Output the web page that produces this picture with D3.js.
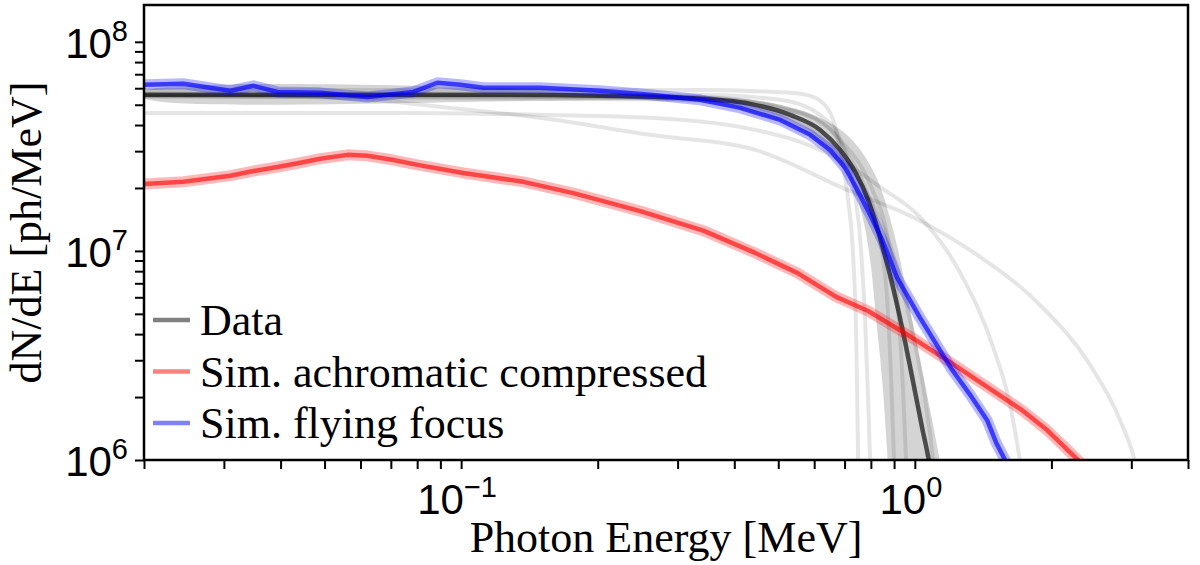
<!DOCTYPE html>
<html>
<head>
<meta charset="utf-8">
<script src="https://cdn.jsdelivr.net/npm/d3@7"></script>
<style>
  body { margin: 0; background: #fff; }
</style>
</head>
<body>
<svg id="chart" width="1200" height="565"></svg>
<script>
// values: [photon energy MeV, dN/dE ph/MeV]
const dataLine = [[0.02,5.58e7],[0.122,5.58e7],[0.2026,5.52e7],[0.3365,5.34e7],[0.4336,5.05e7],[0.5313,4.47e7],[0.6184,3.79e7],[0.6845,3.04e7],[0.7385,2.39e7],[0.7889,1.75e7],[0.8386,1.15e7],[0.8958,6.65e6],[0.9519,3.67e6],[1.0015,2.11e6],[1.038,1.42e6],[1.075,9.78e5],[1.09,8e5]];
const dataBandUpper = [[0.02,5.76e7],[0.3365,5.52e7],[0.505,5.0e7],[0.6184,4.33e7],[0.7201,3.47e7],[0.8178,2.31e7],[0.8958,1.26e7],[0.9666,5.83e6],[1.027,3.01e6],[1.092,1.55e6],[1.143,9.0e5],[1.16,7e5]];
const dataBandLower = [[0.02,5.40e7],[0.3365,5.11e7],[0.4562,4.47e7],[0.559,3.79e7],[0.6507,2.88e7],[0.7201,2.19e7],[0.7652,1.49e7],[0.797,9.06e6],[0.8219,4.68e6],[0.8472,2.41e6],[0.8734,9.0e5],[0.878,7e5]];

const simAchromatic = [[0.02,2.09e7],[0.02443,2.14e7],[0.031,2.29e7],[0.03485,2.41e7],[0.03936,2.52e7],[0.0442,2.64e7],[0.0489,2.76e7],[0.0562,2.88e7],[0.0621,2.85e7],[0.0709,2.72e7],[0.0801,2.58e7],[0.1011,2.36e7],[0.1371,2.14e7],[0.1767,1.89e7],[0.2482,1.55e7],[0.3417,1.25e7],[0.4447,9.78e6],[0.5505,7.85e6],[0.6708,6.03e6],[0.7889,5.16e6],[0.9568,4.01e6],[1.1842,2.98e6],[1.443,2.24e6],[1.7234,1.73e6],[1.9563,1.39e6],[2.313,9.78e5],[2.4,9e5]];
const simFlyingFocus = [[0.02,6.23e7],[0.02443,6.30e7],[0.031,5.83e7],[0.03485,6.16e7],[0.03936,5.76e7],[0.04894,5.70e7],[0.06213,5.45e7],[0.07845,5.76e7],[0.0886,6.37e7],[0.0996,6.23e7],[0.1119,6.03e7],[0.1494,6.03e7],[0.2026,5.83e7],[0.2611,5.58e7],[0.3365,5.28e7],[0.4122,4.83e7],[0.505,4.23e7],[0.5879,3.59e7],[0.6507,3.04e7],[0.7023,2.50e7],[0.7501,1.92e7],[0.797,1.49e7],[0.8472,1.13e7],[0.9141,7.43e6],[1.027,4.78e6],[1.208,2.70e6],[1.324,2.05e6],[1.443,1.55e6],[1.511,1.21e6],[1.589,9.78e5],[1.62,9e5]];

// light grey fit samples
const fit1 = [[0.02,4.57e7],[0.0735,4.57e7],[0.157,4.47e7],[0.261,4.33e7],[0.445,3.79e7],[0.559,3.32e7],[0.685,2.72e7],[0.839,2.02e7],[1.027,1.45e7],[1.259,7.85e6],[1.495,3.36e6],[1.622,1.83e6],[1.706,9.78e5],[1.73,8e5]];
const fit2 = [[0.02,5.45e7],[0.0442,5.45e7],[0.0631,5.28e7],[0.0947,4.83e7],[0.149,4.33e7],[0.261,3.59e7],[0.445,3.04e7],[0.709,1.96e7],[0.991,1.45e7],[1.393,9.36e6],[1.888,5.51e6],[2.433,2.85e6],[2.834,1.55e6],[3.057,9.78e5],[3.12,8e5]];
const fit3 = [[0.02,5.89e7],[0.3365,5.89e7],[0.531,5.70e7],[0.597,5.45e7],[0.651,4.57e7],[0.685,3.04e7],[0.713,1.75e7],[0.732,9.06e6],[0.743,3.75e6],[0.750,9.78e5],[0.752,7e5]];
const fit4 = [[0.02,5.64e7],[0.3365,5.58e7],[0.505,5.28e7],[0.618,4.47e7],[0.685,3.40e7],[0.728,2.19e7],[0.758,1.13e7],[0.777,4.68e6],[0.789,1.94e6],[0.797,9.78e5],[0.80,7e5]];
const fit5 = [[0.02,5.52e7],[0.3365,5.40e7],[0.505,4.83e7],[0.628,4.10e7],[0.709,2.94e7],[0.785,1.89e7],[0.839,1.13e7],[0.869,5.83e6],[0.887,2.41e6],[0.900,9.78e5],[0.904,7e5]];
const fit6 = [[0.02,5.58e7],[0.3365,5.45e7],[0.531,4.73e7],[0.685,3.40e7],[0.797,2.07e7],[0.873,1.13e7],[0.919,5.22e6],[0.942,2.16e6],[0.957,9.78e5],[0.962,7e5]];
const fit7 = [[0.02,5.52e7],[0.3365,5.28e7],[0.531,4.33e7],[0.651,3.21e7],[0.777,1.96e7],[0.896,9.57e6],[0.986,4.19e6],[1.054,1.94e6],[1.097,9.78e5],[1.11,7e5]];
const fits = [fit1, fit2, fit3, fit4, fit5, fit6, fit7];

const legendLabels = ["Data", "Sim. achromatic compressed", "Sim. flying focus"];
const legendColors = ["#808080", "#ff8080", "#8080ff"];

const xMajor = [0.1, 1];
const xMajorExp = ["\u22121", "0"];
const xMinor = [0.02,0.03,0.04,0.05,0.06,0.07,0.08,0.09,0.2,0.3,0.4,0.5,0.6,0.7,0.8,0.9,2,3,4];
const yMajor = [1e6, 1e7, 1e8];
const yMajorExp = ["6", "7", "8"];
const yMinor = [2e6,3e6,4e6,5e6,6e6,7e6,8e6,9e6,2e7,3e7,4e7,5e7,6e7,7e7,8e7,9e7];

const svg = d3.select("#chart");
const pL = 144, pR = 1188, pT = 5, pB = 460;

const x = d3.scaleLog().domain([0.02, 4]).range([pL, pR]);
const y = d3.scaleLog().domain([1e6, 1.5e8]).range([pB, pT]);

svg.append("clipPath").attr("id", "plotclip")
  .append("rect").attr("x", pL).attr("y", pT)
  .attr("width", pR - pL).attr("height", pB - pT);

const plot = svg.append("g").attr("clip-path", "url(#plotclip)");

const smooth = d3.line().x(d => x(d[0])).y(d => y(d[1])).curve(d3.curveMonotoneX);
const straight = d3.line().x(d => x(d[0])).y(d => y(d[1]));

// grey fits
plot.selectAll(".fit").data(fits).enter().append("path")
  .attr("class", "fit")
  .attr("d", smooth)
  .attr("fill", "none")
  .attr("stroke", "#000")
  .attr("stroke-opacity", 0.1)
  .attr("stroke-width", 4);

// uncertainty band of the data fit
const bandPts = dataBandUpper.concat(dataBandLower.slice().reverse());
plot.append("path")
  .attr("d", d3.line().x(d => x(d[0])).y(d => y(d[1])).curve(d3.curveCatmullRomClosed.alpha(0.5))(bandPts))
  .attr("fill", "#000")
  .attr("fill-opacity", 0.17)
  .attr("stroke", "none");

plot.append("path")
  .attr("d", smooth(dataLine))
  .attr("fill", "none")
  .attr("stroke", "#000")
  .attr("stroke-opacity", 0.65)
  .attr("stroke-width", 4.5);

// simulations: wide pale stroke for spread, line on top
[[simAchromatic, "#ff0000", 0.62], [simFlyingFocus, "#0000ff", 0.68]].forEach(([s, c, op]) => {
  plot.append("path")
    .attr("d", straight(s))
    .attr("fill", "none")
    .attr("stroke", c)
    .attr("stroke-opacity", 0.28)
    .attr("stroke-width", 11)
    .attr("stroke-linejoin", "round");
  plot.append("path")
    .attr("d", straight(s))
    .attr("fill", "none")
    .attr("stroke", c)
    .attr("stroke-opacity", op)
    .attr("stroke-width", 4.5)
    .attr("stroke-linejoin", "round");
});

// axes ticks
const xAxis = svg.append("g").attr("transform", `translate(0,${pB})`)
  .call(d3.axisBottom(x).tickValues(xMajor.concat(xMinor)).tickSize(9).tickFormat(""));
const yAxis = svg.append("g").attr("transform", `translate(${pL},0)`)
  .call(d3.axisLeft(y).tickValues(yMajor.concat(yMinor)).tickSize(9).tickFormat(""));
[xAxis, yAxis].forEach(a => {
  a.select(".domain").remove();
  a.selectAll(".tick line").attr("stroke", "#000").attr("stroke-width", 2);
});

// frame
svg.append("rect")
  .attr("x", pL).attr("y", pT)
  .attr("width", pR - pL).attr("height", pB - pT)
  .attr("fill", "none").attr("stroke", "#000").attr("stroke-width", 2.5);

// tick labels
const sans = "'Liberation Sans', Arial, Helvetica, sans-serif";
const serif = "'Liberation Serif', 'Times New Roman', Times, serif";

xMajor.forEach((v, i) => {
  const t = svg.append("text")
    .attr("x", x(v) - 4).attr("y", 514)
    .attr("text-anchor", "middle")
    .attr("font-family", sans).attr("font-size", 42);
  t.append("tspan").text("10");
  t.append("tspan").attr("dy", -17).attr("font-size", 29).text(xMajorExp[i]);
});

yMajor.forEach((v, i) => {
  const t = svg.append("text")
    .attr("x", 128).attr("y", y(v) + 16)
    .attr("text-anchor", "end")
    .attr("font-family", sans).attr("font-size", 42);
  t.append("tspan").text("10");
  t.append("tspan").attr("dy", -17).attr("font-size", 29).text(yMajorExp[i]);
});

// axis titles
svg.append("text")
  .attr("x", (pL + pR) / 2).attr("y", 552)
  .attr("text-anchor", "middle")
  .attr("font-family", serif).attr("font-size", 44)
  .text("Photon Energy [MeV]");

svg.append("text")
  .attr("transform", `translate(41,${(pT + pB) / 2}) rotate(-90)`)
  .attr("text-anchor", "middle")
  .attr("font-family", serif).attr("font-size", 44)
  .text("dN/dE [ph/MeV]");

// legend
const legend = svg.append("g");
legendLabels.forEach((lab, i) => {
  const ly = 320 + i * 51.5;
  legend.append("line")
    .attr("x1", 153).attr("x2", 190).attr("y1", ly).attr("y2", ly)
    .attr("stroke", legendColors[i]).attr("stroke-width", 4.5);
  legend.append("text")
    .attr("x", 200).attr("y", ly + 15)
    .attr("font-family", serif).attr("font-size", 44)
    .text(lab);
});
</script>
</body>
</html>
